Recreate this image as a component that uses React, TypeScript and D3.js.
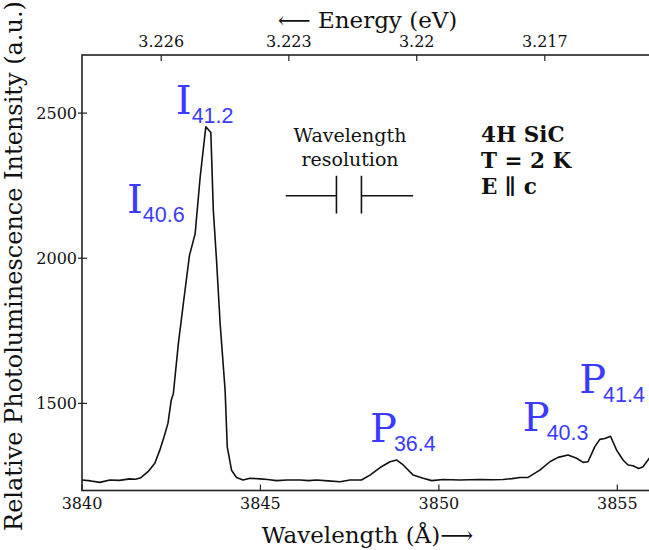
import React, { useEffect, useRef } from 'react';
import * as d3 from 'd3';

// spectrum: wavelength (Å) and PL intensity (a.u.)
const wavelength = [
  3840.0, 3840.25, 3840.5, 3840.78, 3841.05, 3841.34, 3841.5, 3841.65, 3841.85, 3842.04,
  3842.18, 3842.3, 3842.41, 3842.5, 3842.56, 3842.7, 3842.84, 3843.01, 3843.17, 3843.31,
  3843.47, 3843.61, 3843.68, 3843.77, 3843.87, 3844.01, 3844.07, 3844.19, 3844.33, 3844.51,
  3844.71, 3844.99, 3845.2, 3845.45, 3845.75, 3846.11, 3846.35, 3846.57, 3846.9, 3847.23,
  3847.51, 3847.83, 3848.07, 3848.39, 3848.63, 3848.82, 3849.0, 3849.28, 3849.56, 3849.8,
  3850.12, 3850.35, 3850.59, 3850.85, 3851.15, 3851.5, 3851.8, 3852.05, 3852.27, 3852.5,
  3852.6, 3852.83, 3853.11, 3853.34, 3853.62, 3853.86, 3854.04, 3854.18, 3854.37, 3854.51,
  3854.65, 3854.81, 3854.98, 3855.16, 3855.3, 3855.44, 3855.6, 3855.72, 3855.86, 3856.0,
];
const intensity = [
  1236, 1233, 1228, 1236, 1235, 1240, 1239, 1244, 1265, 1294,
  1339, 1385, 1432, 1511, 1534, 1706, 1844, 2009, 2084, 2278,
  2453, 2433, 2164, 1992, 1776, 1545, 1350, 1270, 1245, 1236,
  1242, 1240, 1238, 1234, 1236, 1236, 1234, 1236, 1233, 1230,
  1236, 1236, 1253, 1282, 1299, 1305, 1288, 1253, 1242, 1234,
  1238, 1237, 1236, 1237, 1238, 1237, 1238, 1241, 1245, 1245,
  1253, 1270, 1299, 1314, 1322, 1311, 1297, 1299, 1351, 1376,
  1379, 1387, 1339, 1305, 1288, 1285, 1276, 1282, 1305, 1330,
];

const xTicks = [3840, 3845, 3850, 3855];
const yTicks = [1500, 2000, 2500];
const energyTicks = [3.226, 3.223, 3.22, 3.217];
const energyLabels = ['3.226', '3.223', '3.22', '3.217'];
const HC = 12395.0; // eV·Å, as used by the top axis

// peak labels: letter, subscript, anchor (wavelength, intensity)
const peakLetters = ['I', 'I', 'P', 'P', 'P'];
const peakSubs = ['41.2', '40.6', '36.4', '40.3', '41.4'];
const peakLambda = [3842.63, 3841.26, 3848.07, 3852.35, 3853.93];
const peakLevel = [2498, 2157, 1367, 1404, 1535];

const infoLines = ['4H SiC', 'T = 2 K', 'E \u2225 c'];

const W = 649, H = 550;
const BLUE = '#3b3bff';
const SERIF = "'DejaVu Serif', serif";

const App: React.FC = () => {
  const ref = useRef<SVGSVGElement>(null);

  useEffect(() => {
    if (!ref.current) return;
    const svg = d3.select(ref.current);
    svg.selectAll('*').remove();

    const left = 82, right = 653, top = 55, bottom = 490.5;
    const x = d3.scaleLinear().domain([3840, 3856]).range([left, right]);
    const y = d3.scaleLinear().domain([1200, 2700]).range([bottom, top]);

    svg.append('defs').append('clipPath').attr('id', 'plotclip')
      .append('rect').attr('x', left).attr('y', top)
      .attr('width', right - left).attr('height', bottom - top);

    // spectrum
    const pts = wavelength.map((w, i) => [w, intensity[i]] as [number, number]);
    const line = d3.line<[number, number]>().x(d => x(d[0])).y(d => y(d[1]));
    svg.append('path')
      .datum(pts)
      .attr('clip-path', 'url(#plotclip)')
      .attr('d', line)
      .attr('fill', 'none')
      .attr('stroke', '#111')
      .attr('stroke-width', 1.6)
      .attr('stroke-linejoin', 'round');

    // frame
    svg.append('rect')
      .attr('x', left).attr('y', top)
      .attr('width', right - left).attr('height', bottom - top)
      .attr('fill', 'none').attr('stroke', '#222').attr('stroke-width', 1.6);

    const tk = svg.append('g').attr('stroke', '#222').attr('stroke-width', 1.2);

    // bottom axis
    xTicks.forEach(t => {
      tk.append('line').attr('x1', x(t)).attr('x2', x(t)).attr('y1', bottom).attr('y2', bottom - 6);
    });
    svg.append('g').selectAll('text').data(xTicks).join('text')
      .attr('x', d => x(d)).attr('y', 509)
      .attr('text-anchor', 'middle')
      .style('font-family', SERIF).style('font-size', '16px').attr('fill', '#111')
      .text(d => String(d));

    // left axis
    yTicks.forEach(t => {
      tk.append('line').attr('x1', left - 4).attr('x2', left + 5).attr('y1', y(t)).attr('y2', y(t));
    });
    svg.append('g').selectAll('text').data(yTicks).join('text')
      .attr('x', 77).attr('y', d => y(d)).attr('dy', '0.36em')
      .attr('text-anchor', 'end')
      .style('font-family', SERIF).style('font-size', '16px').attr('fill', '#111')
      .text(d => String(d));

    // top energy axis
    energyTicks.forEach(e => {
      const px = x(HC / e);
      tk.append('line').attr('x1', px).attr('x2', px).attr('y1', top).attr('y2', top + 6);
    });
    svg.append('g').selectAll('text').data(energyTicks).join('text')
      .attr('x', d => x(HC / d)).attr('y', 46.5)
      .attr('text-anchor', 'middle')
      .style('font-family', SERIF).style('font-size', '16px').attr('fill', '#111')
      .text((d, i) => energyLabels[i]);

    // axis titles
    svg.append('text')
      .attr('x', (left + right) / 2).attr('y', 28)
      .attr('text-anchor', 'middle')
      .style('font-family', SERIF).style('font-size', '23px').attr('fill', '#111')
      .text('\u27F5 Energy (eV)');
    svg.append('text')
      .attr('x', (left + right) / 2).attr('y', 543)
      .attr('text-anchor', 'middle')
      .style('font-family', SERIF).style('font-size', '23px').attr('fill', '#111')
      .text('Wavelength (\u00C5)\u27F6');
    svg.append('text')
      .attr('transform', 'translate(22, 266) rotate(-90)')
      .attr('text-anchor', 'middle')
      .style('font-family', SERIF).style('font-size', '24px').attr('fill', '#111')
      .text('Relative Photoluminescence Intensity (a.u.)');

    // peak labels
    peakLetters.forEach((letter, i) => {
      const t = svg.append('text')
        .attr('x', x(peakLambda[i])).attr('y', y(peakLevel[i]))
        .attr('fill', BLUE);
      t.append('tspan').style('font-family', SERIF).style('font-size', '40px').text(letter);
      t.append('tspan').attr('dy', 9).attr('dx', letter === 'P' ? -3 : 0)
        .style('font-family', "'Liberation Sans', sans-serif").style('font-size', '21.5px')
        .text(peakSubs[i]);
    });

    // wavelength resolution marker
    svg.append('text').attr('x', 350).attr('y', 141.5).attr('text-anchor', 'middle')
      .style('font-family', SERIF).style('font-size', '19px').attr('fill', '#111')
      .text('Wavelength');
    svg.append('text').attr('x', 350).attr('y', 166).attr('text-anchor', 'middle')
      .style('font-family', SERIF).style('font-size', '19px').attr('fill', '#111')
      .text('resolution');
    const resLo = 3847.13, resHi = 3847.83, armL = 3845.71, armR = 3849.28;
    const ry = y(2215), ry1 = y(2284), ry2 = y(2154);
    const rg = svg.append('g').attr('stroke', '#111').attr('stroke-width', 1.6);
    rg.append('line').attr('x1', x(armL)).attr('x2', x(resLo)).attr('y1', ry).attr('y2', ry);
    rg.append('line').attr('x1', x(resLo)).attr('x2', x(resLo)).attr('y1', ry1).attr('y2', ry2);
    rg.append('line').attr('x1', x(resHi)).attr('x2', x(resHi)).attr('y1', ry1).attr('y2', ry2);
    rg.append('line').attr('x1', x(resHi)).attr('x2', x(armR)).attr('y1', ry).attr('y2', ry);

    // sample info
    svg.append('g').selectAll('text').data(infoLines).join('text')
      .attr('x', 481).attr('y', (d, i) => 141.5 + i * 26.3)
      .style('font-family', SERIF).style('font-size', '21.5px').style('font-weight', 'bold')
      .attr('fill', '#111')
      .text(d => d);
  }, []);

  return (
    <svg ref={ref} width={W} height={H}
      style={{ position: 'absolute', left: 0, top: 0, background: '#fff' }} />
  );
};

export default App;
